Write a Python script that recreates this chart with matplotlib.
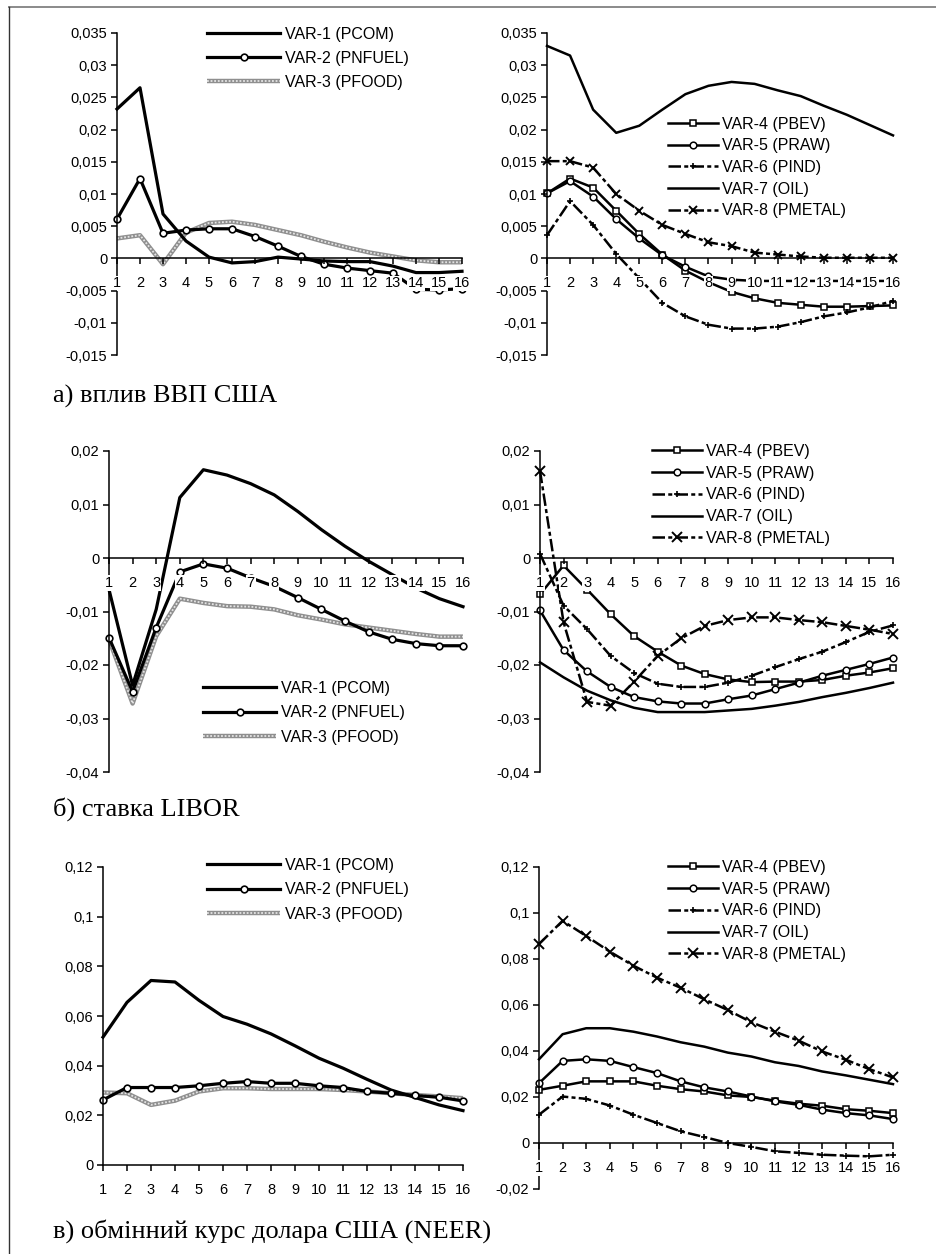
import numpy as np
import matplotlib
matplotlib.use("Agg")
import matplotlib.pyplot as plt
from matplotlib.lines import Line2D
from matplotlib.legend_handler import HandlerTuple
from matplotlib.ticker import FuncFormatter

plt.rcParams['font.family'] = ['Liberation Sans', 'DejaVu Sans']

periods = list(range(1, 17))
left_labels = ['VAR-1 (PCOM)', 'VAR-2 (PNFUEL)', 'VAR-3 (PFOOD)']
right_labels = ['VAR-4 (PBEV)', 'VAR-5 (PRAW)', 'VAR-6 (PIND)', 'VAR-7 (OIL)', 'VAR-8 (PMETAL)']
captions = ['а) вплив ВВП США', 'б) ставка LIBOR', 'в) обмінний курс долара США (NEER)']

# а) US GDP shock
a_pcom = [0.0232, 0.0265, 0.0069, 0.0027, 0.0002, -0.0007, -0.0005, 0.0002, -0.0001, -0.0004, -0.0005, -0.0005, -0.0012, -0.0022, -0.0022, -0.0020]
a_pnfuel = [0.0061, 0.0124, 0.0039, 0.0044, 0.0046, 0.0046, 0.0034, 0.0019, 0.0003, -0.0009, -0.0015, -0.0019, -0.0023, -0.0048, -0.0049, -0.0047]
a_pfood = [0.0031, 0.0036, -0.0009, 0.0040, 0.0055, 0.0057, 0.0052, 0.0044, 0.0036, 0.0026, 0.0017, 0.0009, 0.0003, -0.0003, -0.0006, -0.0006]
a_pbev = [0.0101, 0.0124, 0.0110, 0.0074, 0.0038, 0.0006, -0.0019, -0.0037, -0.0052, -0.0062, -0.0069, -0.0072, -0.0075, -0.0075, -0.0074, -0.0073]
a_praw = [0.0101, 0.0120, 0.0096, 0.0061, 0.0031, 0.0005, -0.0013, -0.0028, -0.0033, -0.0035, -0.0035, -0.0035, -0.0035, -0.0035, -0.0035, -0.0035]
a_pind = [0.0036, 0.0089, 0.0052, 0.0007, -0.0031, -0.0069, -0.0090, -0.0103, -0.0109, -0.0109, -0.0106, -0.0099, -0.0090, -0.0084, -0.0076, -0.0066]
a_oil = [0.0330, 0.0315, 0.0231, 0.0195, 0.0206, 0.0231, 0.0255, 0.0268, 0.0274, 0.0271, 0.0261, 0.0252, 0.0237, 0.0223, 0.0207, 0.0191]
a_pmetal = [0.0151, 0.0151, 0.0141, 0.0100, 0.0074, 0.0052, 0.0038, 0.0025, 0.0019, 0.0009, 0.0006, 0.0003, 0.0001, 0.0001, 0.0001, 0.0001]

# б) LIBOR shock
b_pcom = [-0.0059, -0.0238, -0.0096, 0.0113, 0.0165, 0.0155, 0.0139, 0.0118, 0.0087, 0.0053, 0.0022, -0.0006, -0.0031, -0.0056, -0.0076, -0.0091]
b_pnfuel = [-0.0149, -0.0250, -0.0130, -0.0026, -0.0011, -0.0019, -0.0037, -0.0053, -0.0074, -0.0096, -0.0118, -0.0138, -0.0152, -0.0160, -0.0164, -0.0164]
b_pfood = [-0.0152, -0.0272, -0.0146, -0.0076, -0.0084, -0.0090, -0.0091, -0.0096, -0.0107, -0.0115, -0.0124, -0.0130, -0.0136, -0.0142, -0.0147, -0.0147]
b_pbev = [-0.0068, -0.0014, -0.0059, -0.0105, -0.0146, -0.0175, -0.0201, -0.0217, -0.0227, -0.0232, -0.0231, -0.0231, -0.0228, -0.0220, -0.0214, -0.0206]
b_praw = [-0.0098, -0.0172, -0.0212, -0.0241, -0.0260, -0.0268, -0.0272, -0.0272, -0.0264, -0.0257, -0.0245, -0.0233, -0.0220, -0.0209, -0.0198, -0.0186]
b_pind = [0.0008, -0.0089, -0.0133, -0.0183, -0.0215, -0.0235, -0.0241, -0.0241, -0.0233, -0.0220, -0.0204, -0.0189, -0.0175, -0.0157, -0.0138, -0.0126]
b_oil = [-0.0195, -0.0223, -0.0248, -0.0266, -0.0280, -0.0288, -0.0288, -0.0288, -0.0285, -0.0282, -0.0276, -0.0269, -0.0260, -0.0252, -0.0243, -0.0233]
b_pmetal = [0.0163, -0.0120, -0.0269, -0.0276, -0.0231, -0.0183, -0.0150, -0.0127, -0.0116, -0.0111, -0.0111, -0.0116, -0.0120, -0.0127, -0.0134, -0.0142]

# в) USD exchange rate (NEER) shock
c_pcom = [0.0515, 0.0655, 0.0743, 0.0737, 0.0663, 0.0598, 0.0567, 0.0528, 0.0480, 0.0430, 0.0390, 0.0345, 0.0302, 0.0272, 0.0242, 0.0219]
c_pnfuel = [0.0262, 0.0312, 0.0312, 0.0312, 0.0319, 0.0329, 0.0336, 0.0329, 0.0329, 0.0319, 0.0312, 0.0296, 0.0289, 0.0280, 0.0273, 0.0258]
c_pfood = [0.0292, 0.0289, 0.0242, 0.0259, 0.0296, 0.0309, 0.0309, 0.0306, 0.0306, 0.0306, 0.0302, 0.0296, 0.0289, 0.0282, 0.0276, 0.0269]
c_pbev = [0.0231, 0.0249, 0.0268, 0.0268, 0.0268, 0.0249, 0.0234, 0.0224, 0.0207, 0.0200, 0.0184, 0.0171, 0.0162, 0.0147, 0.0140, 0.0130]
c_praw = [0.0260, 0.0357, 0.0364, 0.0357, 0.0330, 0.0304, 0.0268, 0.0242, 0.0224, 0.0202, 0.0181, 0.0166, 0.0145, 0.0130, 0.0120, 0.0104]
c_pind = [0.0123, 0.0202, 0.0192, 0.0163, 0.0123, 0.0087, 0.0051, 0.0026, 0.0000, -0.0017, -0.0036, -0.0043, -0.0051, -0.0055, -0.0058, -0.0051]
c_oil = [0.0364, 0.0473, 0.0499, 0.0499, 0.0484, 0.0463, 0.0438, 0.0419, 0.0393, 0.0376, 0.0351, 0.0335, 0.0311, 0.0294, 0.0275, 0.0256]
c_pmetal = [0.0865, 0.0966, 0.0900, 0.0832, 0.0771, 0.0719, 0.0675, 0.0625, 0.0578, 0.0525, 0.0484, 0.0445, 0.0398, 0.0362, 0.0321, 0.0285]

W, H = 936, 1254
fig = plt.figure(figsize=(W / 100, H / 100), dpi=100)


def px_axes(x0, y0, x1, y1):
    # pixel box (top-left origin) -> figure axes
    return fig.add_axes([x0 / W, 1 - y1 / H, (x1 - x0) / W, (y1 - y0) / H])


def comma(v, pos):
    if abs(v) < 1e-12:
        return '0'
    return ('%g' % round(v, 6)).replace('.', ',')


def style_axes(ax, ylo, yhi, step):
    ax.set_xlim(1, 16)
    ax.set_ylim(ylo, yhi)
    ax.set_yticks(np.arange(ylo, yhi + step / 2, step))
    ax.yaxis.set_major_formatter(FuncFormatter(comma))
    ax.set_xticks(periods)
    ax.set_xticklabels([str(p) for p in periods])
    for s in ['top', 'right']:
        ax.spines[s].set_visible(False)
    ax.spines['bottom'].set_position(('data', 0))
    for s in ['left', 'bottom']:
        ax.spines[s].set_linewidth(1.1)
    ax.tick_params(axis='y', direction='out', length=4, width=1.1, pad=3, labelsize=10.5)
    ax.tick_params(axis='x', direction='out', length=4.5, width=1.1, pad=8.5, labelsize=10.5)
    ax.set_axisbelow(False)
    for lbl in ax.get_xticklabels():
        lbl.set_bbox(dict(facecolor='white', edgecolor='none', pad=0.6))
    ax.patch.set_visible(False)


def left_panel(ax, pcom, pnfuel, pfood):
    f1, = ax.plot(periods, pfood, color='#8f8f8f', lw=3.2, solid_capstyle='butt', clip_on=False, zorder=2)
    f2, = ax.plot(periods, pfood, color='#e4e4e4', lw=1.3, ls=(0, (1, 1)), clip_on=False, zorder=2.01)
    h1, = ax.plot(periods, pcom, color='black', lw=2.3, clip_on=False, zorder=2.1)
    h2, = ax.plot(periods, pnfuel, color='black', lw=2.3, marker='o', ms=4.8, mfc='white',
                  mec='black', mew=1.2, clip_on=False, zorder=2.2)
    return [h1, h2, (f1, f2)]


def right_panel(ax, pbev, praw, pind, oil, pmetal, xsize):
    dd = (0, (5, 1.3, 1.6, 1.3))
    h4, = ax.plot(periods, pbev, color='black', lw=1.8, marker='s', ms=4.8, mfc='white',
                  mec='black', mew=1.1, clip_on=False)
    h5, = ax.plot(periods, praw, color='black', lw=1.8, marker='o', ms=4.8, mfc='white',
                  mec='black', mew=1.1, clip_on=False)
    h6, = ax.plot(periods, pind, color='black', lw=1.8, ls=dd, marker='+', ms=5, mew=1.2,
                  clip_on=False)
    h7, = ax.plot(periods, oil, color='black', lw=1.8, clip_on=False)
    h8, = ax.plot(periods, pmetal, color='black', lw=1.8, ls=dd, marker='x', ms=xsize, mew=1.4,
                  clip_on=False)
    return [h4, h5, h6, h7, h8]


def add_legend(ax, handles, labels, x, ytop, hl, ls):
    ax.legend(handles, labels, loc='upper left', bbox_to_anchor=(x / W, 1 - ytop / H),
              bbox_transform=fig.transFigure, frameon=False, borderpad=0, borderaxespad=0,
              handlelength=hl, handletextpad=0.3, labelspacing=ls, fontsize=11.5, numpoints=1,
              handler_map={tuple: HandlerTuple(ndivide=1, pad=0)})


# row a
ax = px_axes(117, 33, 462, 355)
hs = left_panel(ax, a_pcom, a_pnfuel, a_pfood)
style_axes(ax, -0.015, 0.035, 0.005)
add_legend(ax, hs, left_labels, 207, 26.5, 4.6, 0.58)

ax = px_axes(547, 33, 893, 355)
hs = right_panel(ax, a_pbev, a_praw, a_pind, a_oil, a_pmetal, 5.5)
style_axes(ax, -0.015, 0.035, 0.005)
add_legend(ax, hs, right_labels, 668, 116.5, 3.1, 0.42)

# row b
ax = px_axes(109, 451, 463, 772)
hs = left_panel(ax, b_pcom, b_pnfuel, b_pfood)
style_axes(ax, -0.04, 0.02, 0.01)
add_legend(ax, hs, left_labels, 203, 681, 4.6, 0.58)

ax = px_axes(540, 451, 893, 772)
hs = right_panel(ax, b_pbev, b_praw, b_pind, b_oil, b_pmetal, 7.5)
style_axes(ax, -0.04, 0.02, 0.01)
add_legend(ax, hs, right_labels, 652, 444, 3.1, 0.42)

# row c
ax = px_axes(103, 867, 463, 1165)
hs = left_panel(ax, c_pcom, c_pnfuel, c_pfood)
style_axes(ax, 0.0, 0.12, 0.02)
add_legend(ax, hs, left_labels, 207, 858, 4.6, 0.58)

ax = px_axes(539, 867, 893, 1189)
hs = right_panel(ax, c_pbev, c_praw, c_pind, c_oil, c_pmetal, 7.5)
style_axes(ax, -0.02, 0.12, 0.02)
add_legend(ax, hs, right_labels, 668, 860, 3.1, 0.42)

# captions
for cap, yb in zip(captions, [403, 816, 1238]):
    fig.text(53 / W, 1 - yb / H, cap, family=['Liberation Serif', 'DejaVu Serif'],
             fontsize=19, va='baseline', ha='left')

# page frame
fig.add_artist(Line2D([9 / W, 1], [1 - 7 / H, 1 - 7 / H], transform=fig.transFigure,
                      color='#8a8a8a', lw=1.4))
fig.add_artist(Line2D([9 / W, 9 / W], [0, 1 - 7 / H], transform=fig.transFigure,
                      color='#333333', lw=1.0))

fig.savefig('out.png', dpi=100, facecolor='white')
